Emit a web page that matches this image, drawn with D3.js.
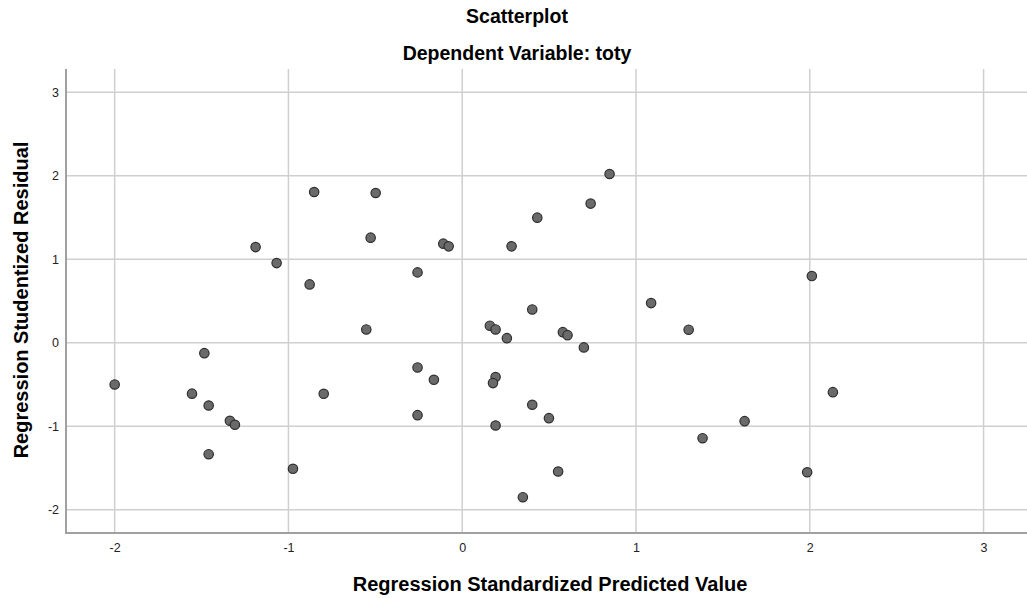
<!DOCTYPE html>
<html>
<head>
<meta charset="utf-8">
<script src="https://cdn.jsdelivr.net/npm/d3@7"></script>
<style>
  body { margin: 0; background: #fff; }
  text { font-family: "Liberation Sans", Arial, sans-serif; fill: #000; }
</style>
</head>
<body>
<svg id="chart"></svg>
<script>
// regression standardized predicted value
const predicted = [
  -2.00, -1.555, -1.484, -1.459, -1.459, -1.337, -1.308, -1.189, -1.068, -0.974,
  -0.878, -0.852, -0.797, -0.552, -0.527, -0.498, -0.257, -0.257, -0.257, -0.163,
  -0.109, -0.078, 0.159, 0.192, 0.192, 0.177, 0.192, 0.257, 0.284, 0.349,
  0.403, 0.403, 0.432, 0.499, 0.552, 0.579, 0.606, 0.700, 0.739, 0.848,
  1.087, 1.303, 1.383, 1.625, 1.985, 2.012, 2.133
]
// regression studentized residual
const residual = [
  -0.50, -0.61, -0.125, -0.752, -1.336, -0.935, -0.983, 1.146, 0.954, -1.511,
  0.699, 1.806, -0.612, 0.159, 1.259, 1.794, 0.843, -0.296, -0.868, -0.444,
  1.187, 1.155, 0.204, 0.159, -0.412, -0.484, -0.992, 0.055, 1.155, -1.851,
  0.399, -0.743, 1.499, -0.904, -1.543, 0.127, 0.091, -0.056, 1.667, 2.022,
  0.475, 0.156, -1.144, -0.940, -1.552, 0.799, -0.592
]
const xTicks = [-2, -1, 0, 1, 2, 3]
const yTicks = [-2, -1, 0, 1, 2, 3]

const width = 1027, height = 598
const margin = { top: 69, right: 0, bottom: 65, left: 66 }

const svg = d3.select("#chart")
  .attr("width", width)
  .attr("height", height)

const x = d3.scaleLinear()
  .domain([-2.28, 3.25])
  .range([margin.left, width - margin.right])
const y = d3.scaleLinear()
  .domain([-2.28, 3.28])
  .range([height - margin.bottom, margin.top])

// grid lines
svg.append("g")
  .selectAll("line")
  .data(xTicks)
  .enter().append("line")
  .attr("x1", d => x(d)).attr("x2", d => x(d))
  .attr("y1", margin.top).attr("y2", height - margin.bottom)
  .attr("stroke", "#cfcfcf")
  .attr("stroke-width", 1.5)

svg.append("g")
  .selectAll("line")
  .data(yTicks)
  .enter().append("line")
  .attr("x1", margin.left).attr("x2", width - margin.right)
  .attr("y1", d => y(d)).attr("y2", d => y(d))
  .attr("stroke", "#cfcfcf")
  .attr("stroke-width", 1.5)

// axes (plain hyphen for negatives, like the original)
const fmt = d => String(d)
const xAxis = svg.append("g")
  .attr("transform", `translate(0,${height - margin.bottom})`)
  .call(d3.axisBottom(x).tickValues(xTicks).tickSize(0).tickPadding(10).tickFormat(fmt))
const yAxis = svg.append("g")
  .attr("transform", `translate(${margin.left},0)`)
  .call(d3.axisLeft(y).tickValues(yTicks).tickSize(0).tickPadding(7).tickFormat(fmt))

;[xAxis, yAxis].forEach(g => {
  g.select(".domain").attr("stroke", "#a0a0a0").attr("stroke-width", 2)
  g.selectAll("text")
    .style("font-family", "'Liberation Sans', Arial, sans-serif")
    .style("font-size", "12.5px")
    .style("fill", "#222")
})
yAxis.select(".domain").attr("d", `M0,${margin.top}V${height - margin.bottom}`)
xAxis.select(".domain").attr("d", `M${margin.left - 1},0H${width}`)

// points
svg.append("g")
  .selectAll("circle")
  .data(predicted.map((p, i) => ({ p, r: residual[i] })))
  .enter().append("circle")
  .attr("cx", d => x(d.p))
  .attr("cy", d => y(d.r))
  .attr("r", 4.7)
  .attr("fill", "#6a6a6a")
  .attr("stroke", "#2e2e2e")
  .attr("stroke-width", 1.2)

// titles
svg.append("text")
  .attr("x", 517).attr("y", 22.5)
  .attr("text-anchor", "middle")
  .style("font-size", "19.5px").style("font-weight", "bold")
  .text("Scatterplot")
svg.append("text")
  .attr("x", 517).attr("y", 60)
  .attr("text-anchor", "middle")
  .style("font-size", "19.5px").style("font-weight", "bold")
  .text("Dependent Variable: toty")

svg.append("text")
  .attr("x", 550).attr("y", 591)
  .attr("text-anchor", "middle")
  .style("font-size", "20px").style("font-weight", "bold")
  .text("Regression Standardized Predicted Value")
svg.append("text")
  .attr("transform", "translate(28,300) rotate(-90)")
  .attr("text-anchor", "middle")
  .style("font-size", "20px").style("font-weight", "bold")
  .text("Regression Studentized Residual")
</script>
</body>
</html>
